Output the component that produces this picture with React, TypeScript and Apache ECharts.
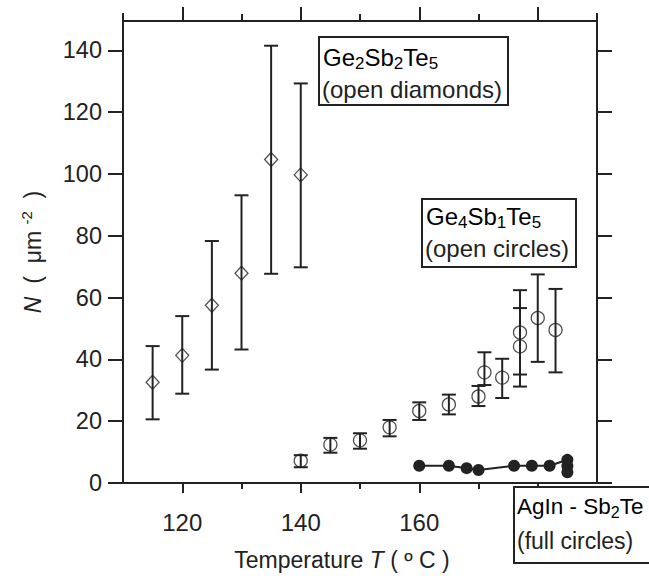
import React, { useEffect, useRef } from "react";
import * as echarts from "echarts";

// Ge2Sb2Te5 (open diamonds)
const tDiamond = [115, 120, 125, 130, 135, 140];
const nDiamond = [32.6, 41.3, 57.5, 67.9, 104.7, 99.7];
const nDiamondLow = [20.6, 28.9, 36.7, 43.2, 67.7, 69.8];
const nDiamondHigh = [44.3, 54.0, 78.3, 93.1, 141.5, 129.3];

// Ge4Sb1Te5 (open circles)
const tCircle = [140, 145, 150, 155, 160, 165, 170, 171, 174, 177, 177, 180, 183];
const nCircle = [7.2, 12.4, 13.8, 18.0, 23.3, 25.4, 28.0, 35.8, 34.1, 48.7, 44.2, 53.4, 49.5];
const nCircleLow = [5.1, 9.8, 11.1, 15.1, 20.4, 22.2, 24.9, 31.7, 27.5, 35.1, 31.2, 39.2, 35.8];
const nCircleHigh = [9.0, 14.6, 16.1, 20.4, 26.1, 28.6, 31.4, 42.3, 40.2, 62.4, 56.6, 67.5, 62.8];

// AgIn-Sb2Te (full circles)
const tFull = [160, 165, 168, 170, 176, 179, 182, 185, 185, 185];
const nFull = [5.6, 5.6, 4.8, 4.2, 5.6, 5.6, 5.6, 7.5, 5.5, 3.5];

// ticks
const xMajorTicks = [120, 140, 160, 180];
const xMinorTicks = [130, 150, 170];
const xLabels = [120, 140, 160];
const yTicks = [0, 20, 40, 60, 80, 100, 120, 140];

const FONT = "Liberation Sans, Arial, Helvetica, sans-serif";
const INK = "#222";

export default function App() {
  const ref = useRef<HTMLDivElement>(null);
  useEffect(() => {
    const chart = echarts.init(ref.current!, null, { renderer: "svg" });
    const lineStyle = { color: INK, width: 2 };

    const errRender = (params: any, api: any) => {
      const x = api.value(0);
      const lo = api.value(1);
      const hi = api.value(2);
      const pt = api.coord([x, hi]);
      const pb = api.coord([x, lo]);
      const h = 7;
      const st = { stroke: INK, lineWidth: 2 };
      return {
        type: "group",
        children: [
          { type: "line", shape: { x1: pt[0], y1: pt[1], x2: pb[0], y2: pb[1] }, style: st },
          { type: "line", shape: { x1: pt[0] - h, y1: pt[1], x2: pt[0] + h, y2: pt[1] }, style: st },
          { type: "line", shape: { x1: pb[0] - h, y1: pb[1], x2: pb[0] + h, y2: pb[1] }, style: st },
        ],
      };
    };

    const sub = { fontSize: 17, fontFamily: FONT, color: INK, padding: [12, 0, 0, 0] };
    const main = { fontSize: 24, fontFamily: FONT, color: INK };
    const main3 = { fontSize: 22.5, fontFamily: FONT, color: INK };
    const sub3 = { fontSize: 16, fontFamily: FONT, color: INK, padding: [12, 0, 0, 0] };
    const nameMain = { fontSize: 23, fontFamily: FONT, color: INK };
    const sup = { fontSize: 15, fontFamily: FONT, color: INK, padding: [0, 0, 12, 0] };
    const ital = { fontSize: 23, fontFamily: FONT, color: INK, fontStyle: "italic" };

    const xBase = { type: "value", min: 110, max: 190, gridIndex: 0, splitLine: { show: false } };
    const yBase = { type: "value", min: 0, max: 149.5, gridIndex: 0, splitLine: { show: false } };

    const option: any = {
      animation: false,
      backgroundColor: "#fff",
      grid: { left: 123, right: 52, top: 21, bottom: 86, containLabel: false },
      xAxis: [
        {
          ...xBase,
          position: "bottom",
          axisLine: { show: true, lineStyle },
          axisTick: { show: true, inside: false, length: 10, lineStyle, customValues: xMajorTicks },
          axisLabel: { customValues: xLabels, fontSize: 24, color: INK, fontFamily: FONT, margin: 27 },
          name: "{n|Temperature }{i|T}{n| ( º C )}",
          nameLocation: "middle",
          nameGap: 65,
          nameTextStyle: { rich: { n: nameMain, i: ital }, padding: [0, 36, 0, 0] },
        },
        {
          ...xBase,
          position: "bottom",
          axisLine: { show: false },
          axisTick: { show: true, inside: false, length: 6, lineStyle, customValues: xMinorTicks },
          axisLabel: { show: false },
        },
        {
          ...xBase,
          position: "top",
          axisLine: { show: true, lineStyle },
          axisTick: { show: true, inside: false, length: 14, lineStyle, customValues: xMajorTicks },
          axisLabel: { show: false },
        },
        {
          ...xBase,
          position: "top",
          axisLine: { show: false },
          axisTick: { show: true, inside: false, length: 7, lineStyle, customValues: xMinorTicks },
          axisLabel: { show: false },
        },
      ],
      yAxis: [
        {
          ...yBase,
          position: "left",
          axisLine: { show: true, lineStyle },
          axisTick: { show: true, inside: false, length: 15, lineStyle, customValues: yTicks },
          axisLabel: { customValues: yTicks, fontSize: 23.5, color: INK, fontFamily: FONT, margin: 21 },
          name: "{i|N}{n|  (  μm }{s|-2}{n|  )}",
          nameLocation: "middle",
          nameRotate: 90,
          nameGap: 77,
          nameTextStyle: { rich: { n: nameMain, i: ital, s: sup } },
        },
        {
          ...yBase,
          position: "right",
          axisLine: { show: true, lineStyle },
          axisTick: { show: true, inside: false, length: 15, lineStyle, customValues: yTicks },
          axisLabel: { show: false },
        },
      ],
      series: [
        {
          type: "custom",
          name: "Ge2Sb2Te5 error",
          coordinateSystem: "cartesian2d",
          xAxisIndex: 0,
          yAxisIndex: 0,
          renderItem: errRender,
          encode: { x: 0, y: [1, 2] },
          data: tDiamond.map((t, i) => [t, nDiamondLow[i], nDiamondHigh[i]]),
          z: 2,
        },
        {
          type: "custom",
          name: "Ge4Sb1Te5 error",
          coordinateSystem: "cartesian2d",
          xAxisIndex: 0,
          yAxisIndex: 0,
          renderItem: errRender,
          encode: { x: 0, y: [1, 2] },
          data: tCircle.map((t, i) => [t, nCircleLow[i], nCircleHigh[i]]),
          z: 2,
        },
        {
          type: "scatter",
          name: "Ge2Sb2Te5",
          xAxisIndex: 0,
          yAxisIndex: 0,
          symbol: "diamond",
          symbolSize: [13, 14],
          itemStyle: { color: "rgba(255,255,255,0)", borderColor: INK, borderWidth: 1.3 },
          data: tDiamond.map((t, i) => [t, nDiamond[i]]),
          z: 3,
        },
        {
          type: "scatter",
          name: "Ge4Sb1Te5",
          xAxisIndex: 0,
          yAxisIndex: 0,
          symbol: "circle",
          symbolSize: 13,
          itemStyle: { color: "rgba(255,255,255,0)", borderColor: INK, borderWidth: 1.3 },
          data: tCircle.map((t, i) => [t, nCircle[i]]),
          z: 3,
        },
        {
          type: "line",
          name: "AgIn-Sb2Te",
          xAxisIndex: 0,
          yAxisIndex: 0,
          symbol: "circle",
          symbolSize: 12,
          showSymbol: true,
          itemStyle: { color: INK },
          lineStyle: { color: INK, width: 2 },
          data: tFull.map((t, i) => [t, nFull[i]]),
          z: 3,
        },
      ],
      graphic: [
        { type: "line", z: 50, shape: { x1: 123, y1: 13, x2: 123, y2: 21 }, style: { stroke: INK, lineWidth: 2 } },
        { type: "line", z: 50, shape: { x1: 597, y1: 13, x2: 597, y2: 21 }, style: { stroke: INK, lineWidth: 2 } },
        {
          type: "rect",
          z: 100,
          shape: { x: 319, y: 37, width: 189, height: 68 },
          style: { fill: "#fff", stroke: INK, lineWidth: 2 },
        },
        {
          type: "text",
          z: 101,
          x: 323,
          y: 57,
          style: {
            text: "{a|Ge}{s|2}{a|Sb}{s|2}{a|Te}{s|5}",
            rich: { a: main, s: sub },
            verticalAlign: "middle",
            align: "left",
          },
        },
        {
          type: "text",
          z: 101,
          x: 322,
          y: 89,
          style: { text: "(open diamonds)", fontSize: 24, fontFamily: FONT, fill: INK, verticalAlign: "middle", align: "left" },
        },
        {
          type: "rect",
          z: 100,
          shape: { x: 422, y: 199, width: 154, height: 68 },
          style: { fill: "#fff", stroke: INK, lineWidth: 2 },
        },
        {
          type: "text",
          z: 101,
          x: 426,
          y: 216,
          style: {
            text: "{a|Ge}{s|4}{a|Sb}{s|1}{a|Te}{s|5}",
            rich: { a: main, s: sub },
            verticalAlign: "middle",
            align: "left",
          },
        },
        {
          type: "text",
          z: 101,
          x: 425,
          y: 248,
          style: { text: "(open circles)", fontSize: 24, fontFamily: FONT, fill: INK, verticalAlign: "middle", align: "left" },
        },
        {
          type: "rect",
          z: 100,
          shape: { x: 514, y: 487, width: 150, height: 76 },
          style: { fill: "#fff", stroke: INK, lineWidth: 2 },
        },
        {
          type: "text",
          z: 101,
          x: 517,
          y: 506,
          style: {
            text: "{a|AgIn - Sb}{s|2}{a|Te}",
            rich: { a: main3, s: sub3 },
            verticalAlign: "middle",
            align: "left",
          },
        },
        {
          type: "text",
          z: 101,
          x: 517,
          y: 541,
          style: { text: "(full circles)", fontSize: 23, fontFamily: FONT, fill: INK, verticalAlign: "middle", align: "left" },
        },
      ],
    };
    chart.setOption(option);
    return () => chart.dispose();
  }, []);
  return (
    <div
      ref={ref}
      style={{ position: "fixed", left: 0, top: 0, width: 649, height: 576, background: "#fff" }}
    />
  );
}
